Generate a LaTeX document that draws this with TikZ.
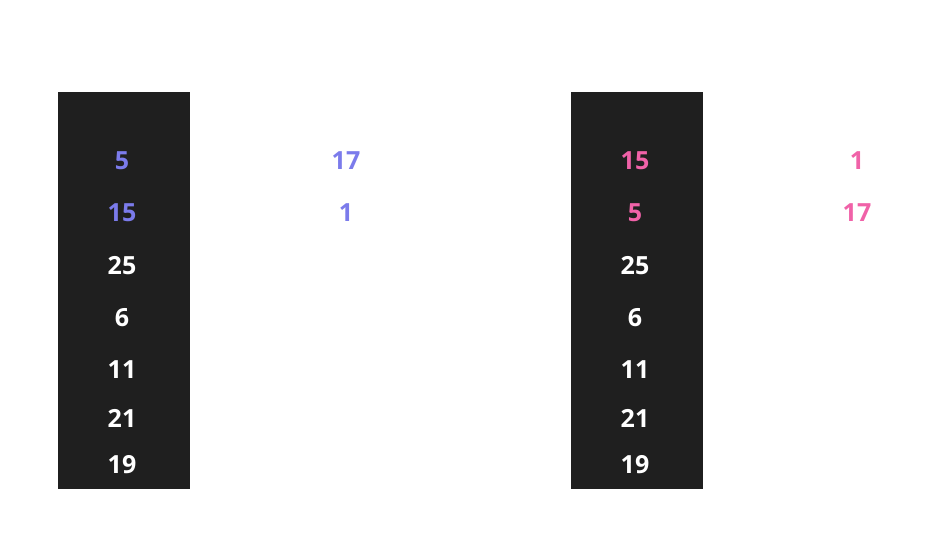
\documentclass[tikz,border=0pt]{standalone}
\usepackage{fontspec}
\setmainfont{Open Sans}
\usepackage{tikz}
\usetikzlibrary{positioning}
\definecolor{darkbar}{HTML}{1F1F1F}
\definecolor{lowblue}{HTML}{7B7BEB}
\definecolor{lowpink}{HTML}{F062A8}
\tikzset{
    bar/.style={
           fill=darkbar,
           draw=none,
           },
}
\tikzset{
    num/.style={
           inner sep=0pt,
           text=white,
           font=\fontsize{25}{25}\selectfont\bfseries,
           },
}

\begin{document}
\begin{tikzpicture}[x=1pt,y=-1pt]
\useasboundingbox (0,0) rectangle (928,550);
\fill[bar] (58,92) rectangle (190,489);
\fill[bar] (571,92) rectangle (703,489);
% left stack
\node[num, text=lowblue] (l1) at (122,161) {5};
\node[num, text=lowblue] (l2) at (122,213) {15};
\node[num] (l3) at (122,266) {25};
\node[num] (l4) at (122,318) {6};
\node[num] (l5) at (122,370) {11};
\node[num] (l6) at (122,418) {21};
\node[num] (l7) at (122,465) {19};
\node[num, text=lowblue] (lx1) at (346,161) {17};
\node[num, text=lowblue] (lx2) at (346,213) {1};
% right stack
\node[num, text=lowpink] (r1) at (635,161) {15};
\node[num, text=lowpink] (r2) at (635,213) {5};
\node[num] (r3) at (635,266) {25};
\node[num] (r4) at (635,318) {6};
\node[num] (r5) at (635,370) {11};
\node[num] (r6) at (635,418) {21};
\node[num] (r7) at (635,465) {19};
\node[num, text=lowpink] (rx1) at (857,161) {1};
\node[num, text=lowpink] (rx2) at (857,213) {17};
\end{tikzpicture}
\end{document}
